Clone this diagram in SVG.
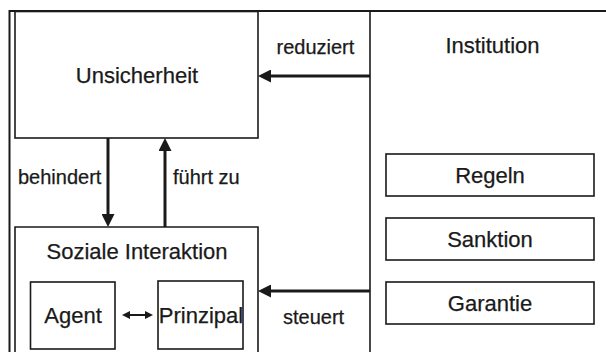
<svg xmlns="http://www.w3.org/2000/svg" width="606" height="352" viewBox="0 0 606 352">
<defs>
<style>
.box{fill:none;stroke:#1a1a1a;stroke-width:1.6}
.frame{fill:none;stroke:#1a1a1a;stroke-width:2}
.lbl{font-family:"Liberation Sans",Arial,sans-serif;font-size:20px;fill:#1a1a1a;stroke:#1a1a1a;stroke-width:0.25}
.node{font-family:"Liberation Sans",Arial,sans-serif;font-size:22px;fill:#1a1a1a;stroke:#1a1a1a;stroke-width:0.25;text-anchor:middle}
.arr{stroke:#1a1a1a;stroke-width:3;fill:none}
.arr2{stroke:#1a1a1a;stroke-width:2;fill:none}
</style>
<marker id="ah" viewBox="0 0 13 13" refX="0" refY="6.5" markerWidth="13" markerHeight="13" markerUnits="userSpaceOnUse" orient="auto">
<path d="M0,0 L13,6.5 L0,13 z" fill="#1a1a1a"/>
</marker>
<marker id="sh" viewBox="0 0 8 8" refX="0" refY="4" markerWidth="8" markerHeight="8" markerUnits="userSpaceOnUse" orient="auto-start-reverse">
<path d="M0,0 L8,4 L0,8 z" fill="#1a1a1a"/>
</marker>
</defs>
<rect width="606" height="352" fill="#fff"/>
<g id="frame">
<path class="frame" d="M9.5,352 V11 H606"/>
</g>
<g id="unsicherheit">
<rect class="box" x="15" y="11.5" width="243" height="126.5"/>
<text class="node" x="137" y="83">Unsicherheit</text>
</g>
<g id="institution">
<line class="box" x1="370" y1="11" x2="370" y2="352"/>
<text class="node" x="492.5" y="53">Institution</text>
</g>
<g id="regeln">
<rect class="box" x="386" y="154" width="208" height="42"/>
<text class="node" x="490" y="183">Regeln</text>
</g>
<g id="sanktion">
<rect class="box" x="386" y="218" width="208" height="42"/>
<text class="node" x="490" y="247">Sanktion</text>
</g>
<g id="garantie">
<rect class="box" x="386" y="282" width="208" height="42"/>
<text class="node" x="490" y="311">Garantie</text>
</g>
<g id="soziale-interaktion">
<path class="box" d="M15,352 V227 H258 V352"/>
<text class="node" x="137" y="259">Soziale Interaktion</text>
</g>
<g id="agent">
<rect class="box" x="30.5" y="282" width="84.5" height="67"/>
<text class="node" x="73" y="323">Agent</text>
</g>
<g id="prinzipal">
<rect class="box" x="158" y="281" width="85" height="68"/>
<text class="node" x="201" y="323">Prinzipal</text>
</g>
<g id="connectors">
<line class="arr" x1="108" y1="138" x2="108" y2="214" marker-end="url(#ah)"/>
<line class="arr" x1="165" y1="227" x2="165" y2="151" marker-end="url(#ah)"/>
<line class="arr" x1="370" y1="76" x2="271" y2="76" marker-end="url(#ah)"/>
<line class="arr" x1="370" y1="291" x2="271" y2="291" marker-end="url(#ah)"/>
<line class="arr2" x1="130" y1="315" x2="145" y2="315" marker-start="url(#sh)" marker-end="url(#sh)"/>
<text class="lbl" x="18" y="184">behindert</text>
<text class="lbl" x="173" y="184">führt zu</text>
<text class="lbl" x="276.5" y="54">reduziert</text>
<text class="lbl" x="283" y="324">steuert</text>
</g>
</svg>
